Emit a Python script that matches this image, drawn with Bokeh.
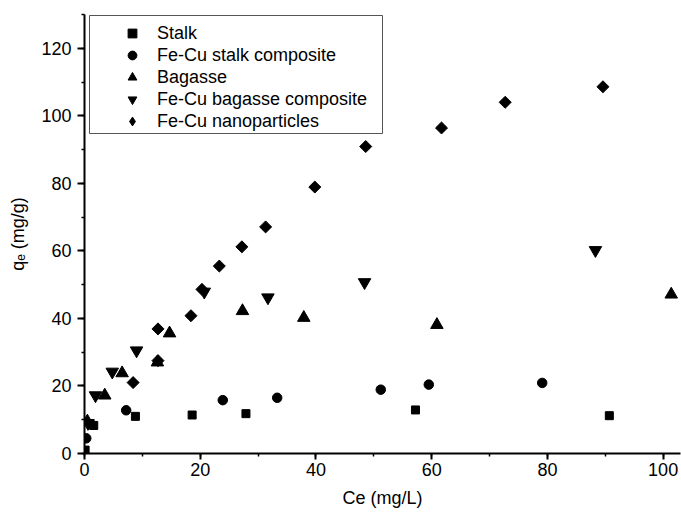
import numpy as np
from bokeh.plotting import figure
from bokeh.models import Range1d, SingleIntervalTicker, Legend, LegendItem, BoxAnnotation
from bokeh.embed import file_html
from bokeh.resources import INLINE

# ---- data ----
stalk_x = [0.1, 1.6, 8.8, 18.6, 27.9, 57.2, 90.7]
stalk_y = [1.0, 8.3, 11.0, 11.4, 11.8, 12.9, 11.2]

fecu_stalk_x = [0.3, 1.2, 7.2, 23.9, 33.3, 51.2, 59.5, 79.1]
fecu_stalk_y = [4.5, 8.6, 12.8, 15.8, 16.5, 18.9, 20.4, 20.9]

bagasse_x = [0.5, 3.5, 6.5, 12.6, 14.7, 27.3, 37.9, 60.9, 101.4]
bagasse_y = [9.5, 17.2, 23.8, 27.0, 35.6, 42.2, 40.2, 38.1, 47.1]

fecu_bagasse_x = [0.6, 1.9, 4.8, 9.0, 20.7, 31.7, 48.4, 88.3]
fecu_bagasse_y = [9.0, 17.2, 24.2, 30.5, 47.9, 46.2, 50.7, 60.2]

nano_x = [8.4, 12.7, 12.7, 18.4, 20.3, 23.3, 27.2, 31.3, 39.8, 48.6, 61.7, 72.7, 89.6]
nano_y = [21.0, 27.5, 36.9, 40.8, 48.6, 55.5, 61.2, 67.1, 78.9, 90.9, 96.4, 104.0, 108.6]

labels = ["Stalk", "Fe-Cu stalk composite", "Bagasse",
          "Fe-Cu bagasse composite", "Fe-Cu nanoparticles"]

FONT = "Liberation Sans"

p = figure(width=681, height=513, output_backend="svg", toolbar_location=None,
           x_range=Range1d(0, 103), y_range=Range1d(0, 130),
           min_border_left=84, min_border_top=14, min_border_right=1,
           min_border_bottom=60)
p.outline_line_color = None
p.xgrid.visible = False
p.ygrid.visible = False
p.background_fill_color = "white"
p.border_fill_color = "white"

r1 = p.scatter(stalk_x, stalk_y, marker="square", size=8, color="black")
r2 = p.scatter(fecu_stalk_x, fecu_stalk_y, marker="circle", size=9.5, color="black")
r3 = p.scatter(bagasse_x, bagasse_y, marker="triangle", size=12.5, color="black")
r4 = p.scatter(fecu_bagasse_x, fecu_bagasse_y, marker="inverted_triangle", size=12.5, color="black")
r5 = p.scatter(nano_x, nano_y, marker="square", angle=np.pi / 4, size=8.5, color="black")
# legend glyph for the diamond (legend glyphs ignore rotation); zero size on the plot
r5_leg = p.scatter(nano_x, nano_y, marker="diamond", size=0, color="black")

for ax in (p.xaxis, p.yaxis):
    ax.ticker = SingleIntervalTicker(interval=20, num_minor_ticks=2)
    ax.axis_line_width = 2
    ax.axis_line_color = "black"
    ax.major_tick_line_width = 2
    ax.minor_tick_line_width = 1.5
    ax.major_tick_in = 0
    ax.minor_tick_in = 0
    ax.major_tick_out = 6
    ax.minor_tick_out = 3
    ax.major_label_text_font = FONT
    ax.major_label_text_font_size = "18px"
    ax.major_label_text_color = "black"
    ax.axis_label_text_font = FONT
    ax.axis_label_text_font_size = "18px"
    ax.axis_label_text_font_style = "normal"
    ax.axis_label_text_color = "black"

p.xaxis.axis_label = "Ce (mg/L)"
p.xaxis.major_label_standoff = 3
p.xaxis.axis_label_standoff = 9
p.yaxis.axis_label = "qₑ (mg/g)"
p.yaxis.major_tick_out = 7
p.yaxis.major_label_standoff = 6
p.yaxis.axis_label_standoff = 10

# legend frame (screen units relative to the plot frame)
legend_box = BoxAnnotation(left=5, right=298, top=438, bottom=320,
                           left_units="screen", right_units="screen",
                           top_units="screen", bottom_units="screen",
                           fill_alpha=0, line_color="#555555", line_width=1,
                           line_alpha=1)
p.add_layout(legend_box)

legend = Legend(items=[LegendItem(label=labels[0], renderers=[r1]),
                       LegendItem(label=labels[1], renderers=[r2]),
                       LegendItem(label=labels[2], renderers=[r3]),
                       LegendItem(label=labels[3], renderers=[r4]),
                       LegendItem(label=labels[4], renderers=[r5_leg])],
                location=(33, 321), margin=0,
                glyph_width=30, glyph_height=22, label_height=22,
                label_standoff=10, spacing=0, padding=0,
                label_text_font=FONT, label_text_font_size="18px",
                label_text_color="black",
                border_line_color=None, background_fill_alpha=0)
p.add_layout(legend, "center")

open("out.html", "w").write(file_html(p, INLINE))
